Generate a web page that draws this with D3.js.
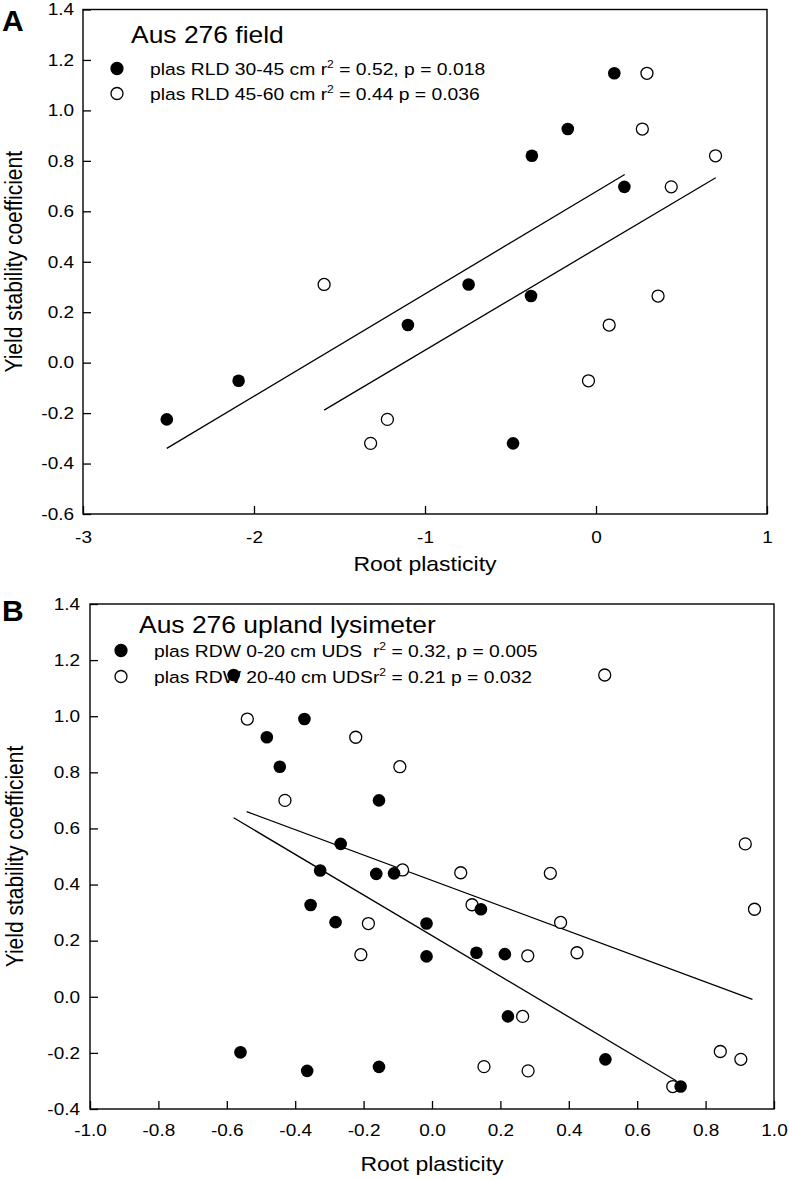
<!DOCTYPE html>
<html><head><meta charset="utf-8">
<script src="https://cdn.jsdelivr.net/npm/d3@7"></script>
<style>
body{margin:0;background:#fff}
text{font-family:Arial,"Liberation Sans",sans-serif;fill:#000;white-space:pre}
</style>
</head><body>
<svg id="chart" width="789" height="1179"></svg>
<script>
// ---------- Panel A data (Aus 276 field) ----------
const aFilledX = [-2.51, -2.09, -1.10, -0.745, -0.38, -0.485, -0.375, -0.165, 0.107, 0.166];
const aFilledY = [-0.225, -0.072, 0.149, 0.31, 0.264, -0.32, 0.82, 0.926, 1.147, 0.697];
const aOpenX = [-1.59, -1.22, -1.318, -0.044, 0.077, 0.363, 0.44, 0.271, 0.298, 0.699];
const aOpenY = [0.31, -0.225, -0.32, -0.072, 0.149, 0.264, 0.697, 0.926, 1.147, 0.82];
const aFitFilled = [[-2.51, -0.34], [0.168, 0.746]];
const aFitOpen = [[-1.59, -0.188], [0.70, 0.733]];
const aXTicks = [-3, -2, -1, 0, 1];
const aXTickLabels = ["-3", "-2", "-1", "0", "1"];
const aYTicks = [-0.6, -0.4, -0.2, 0.0, 0.2, 0.4, 0.6, 0.8, 1.0, 1.2, 1.4];
const aYTickLabels = ["-0.6", "-0.4", "-0.2", "0.0", "0.2", "0.4", "0.6", "0.8", "1.0", "1.2", "1.4"];
const aTitle = "Aus 276 field";
const aLegend = [["plas RLD 30-45 cm r", "2", " = 0.52, p = 0.018"], ["plas RLD 45-60 cm r", "2", " = 0.44 p = 0.036"]];

// ---------- Panel B data (Aus 276 upland lysimeter) ----------
const bFilledX = [-0.58, -0.373, -0.483, -0.445, -0.155, -0.267, -0.327, -0.163, -0.111, -0.355, -0.282, -0.016, 0.143, -0.016, 0.13, 0.213, 0.222, -0.56, -0.365, -0.155, 0.507, 0.727];
const bFilledY = [1.147, 0.99, 0.925, 0.82, 0.70, 0.545, 0.45, 0.438, 0.44, 0.327, 0.266, 0.261, 0.312, 0.144, 0.157, 0.152, -0.07, -0.198, -0.264, -0.25, -0.223, -0.32];
const bOpenX = [-0.54, -0.223, -0.094, -0.43, -0.086, 0.084, 0.346, 0.117, -0.186, -0.208, 0.28, 0.424, 0.376, 0.916, 0.943, 0.265, 0.152, 0.281, 0.704, 0.843, 0.903, 0.505];
const bOpenY = [0.99, 0.925, 0.82, 0.70, 0.452, 0.442, 0.44, 0.328, 0.261, 0.15, 0.146, 0.157, 0.265, 0.545, 0.312, -0.07, -0.249, -0.264, -0.32, -0.195, -0.223, 1.147];
const bFitFilled = [[-0.58, 0.638], [0.715, -0.30]];
const bFitOpen = [[-0.542, 0.66], [0.937, -0.009]];
const bXTicks = [-1.0, -0.8, -0.6, -0.4, -0.2, 0.0, 0.2, 0.4, 0.6, 0.8, 1.0];
const bXTickLabels = ["-1.0", "-0.8", "-0.6", "-0.4", "-0.2", "0.0", "0.2", "0.4", "0.6", "0.8", "1.0"];
const bYTicks = [-0.4, -0.2, 0.0, 0.2, 0.4, 0.6, 0.8, 1.0, 1.2, 1.4];
const bYTickLabels = ["-0.4", "-0.2", "0.0", "0.2", "0.4", "0.6", "0.8", "1.0", "1.2", "1.4"];
const bTitle = "Aus 276 upland lysimeter";
const bLegend = [["plas RDW 0-20 cm UDS  r", "2", " = 0.32, p = 0.005"], ["plas RDW 20-40 cm UDSr", "2", " = 0.21 p = 0.032"]];

const xTitle = "Root plasticity";
const yTitle = "Yield stability coefficient";

// ---------- drawing ----------
const S = 1.15; // horizontal text stretch seen in the reference
const svg = d3.select("#chart");

function stext(g, x, y, size, anchor) {
  return g.append("text")
    .attr("transform", `translate(${x},${y}) scale(${S},1)`)
    .attr("font-size", size)
    .attr("text-anchor", anchor);
}

function drawPanel(cfg) {
  const x = d3.scaleLinear().domain(cfg.xDomain).range([cfg.left, cfg.right]);
  const y = d3.scaleLinear().domain(cfg.yDomain).range([cfg.bottom, cfg.top]);
  const g = svg.append("g");

  // axes (inward ticks)
  const xa = g.append("g").attr("transform", `translate(0,${cfg.bottom})`)
    .call(d3.axisBottom(x).tickValues(cfg.xTicks).tickFormat((d, i) => cfg.xLabels[i])
      .tickSizeInner(-8).tickSizeOuter(0));
  xa.select(".domain").remove();
  xa.selectAll("line").attr("stroke", "#000").attr("stroke-width", 1.3);
  xa.selectAll("text").attr("font-size", 16.5).attr("font-family", null)
    .attr("y", cfg.xLabelOff).attr("dy", null).attr("transform", `scale(${S},1)`);

  const ya = g.append("g").attr("transform", `translate(${cfg.left},0)`)
    .call(d3.axisLeft(y).tickValues(cfg.yTicks).tickFormat((d, i) => cfg.yLabels[i])
      .tickSizeInner(-8).tickSizeOuter(0));
  ya.select(".domain").remove();
  ya.selectAll("line").attr("stroke", "#000").attr("stroke-width", 1.3);
  ya.selectAll("text").attr("font-size", 16.5).attr("font-family", null)
    .attr("x", -cfg.yLabelGap / S).attr("transform", `scale(${S},1)`);

  // frame
  g.append("rect").attr("x", cfg.left).attr("y", cfg.top)
    .attr("width", cfg.right - cfg.left).attr("height", cfg.bottom - cfg.top)
    .attr("fill", "none").attr("stroke", "#000").attr("stroke-width", 1.4);

  // axis titles
  stext(g, (cfg.left + cfg.right) / 2, cfg.xTitleY, 20, "middle").text(xTitle);
  g.append("text")
    .attr("transform", `translate(${cfg.yTitleX},${(cfg.top + cfg.bottom) / 2}) scale(${S},1) rotate(-90)`)
    .attr("font-size", 21).attr("text-anchor", "middle").text(yTitle);

  // panel letter
  g.append("text").attr("x", cfg.letterX).attr("y", cfg.letterY)
    .attr("font-size", 30).attr("font-weight", "bold").text(cfg.letter);

  // title and legend
  stext(g, cfg.titleX, cfg.titleY, 23, "start").text(cfg.title);
  cfg.legend.forEach((parts, i) => {
    const ty = cfg.legY[i];
    const t = stext(g, cfg.legTextX, ty, 16.8, "start");
    t.append("tspan").text(parts[0]);
    t.append("tspan").attr("font-size", 10.5).attr("dy", -7).text(parts[1]);
    t.append("tspan").attr("dy", 7).text(parts[2]);
    g.append("circle").attr("cx", cfg.legMarkX).attr("cy", ty - 6.5).attr("r", 6)
      .attr("fill", i === 0 ? "#000" : "#fff").attr("stroke", "#000").attr("stroke-width", 1.3);
  });

  // regression lines
  const line = d3.line().x(d => x(d[0])).y(d => y(d[1]));
  [cfg.fitFilled, cfg.fitOpen].forEach(f => {
    g.append("path").attr("d", line(f)).attr("fill", "none")
      .attr("stroke", "#000").attr("stroke-width", 1.3);
  });

  // points
  const open = cfg.openX.map((v, i) => [v, cfg.openY[i]]);
  const filled = cfg.filledX.map((v, i) => [v, cfg.filledY[i]]);
  g.append("g").selectAll("circle").data(open).join("circle")
    .attr("cx", d => x(d[0])).attr("cy", d => y(d[1])).attr("r", 6)
    .attr("fill", "#fff").attr("stroke", "#000").attr("stroke-width", 1.3);
  g.append("g").selectAll("circle").data(filled).join("circle")
    .attr("cx", d => x(d[0])).attr("cy", d => y(d[1])).attr("r", 6.3)
    .attr("fill", "#000");
}

drawPanel({
  letter: "A", letterX: 2, letterY: 31,
  left: 83, right: 767, top: 9.5, bottom: 514,
  xDomain: [-3, 1], yDomain: [-0.6, 1.4],
  xTicks: aXTicks, xLabels: aXTickLabels, yTicks: aYTicks, yLabels: aYTickLabels,
  xLabelOff: 29, yLabelGap: 9, xTitleY: 570.5, yTitleX: 22,
  title: aTitle, titleX: 131, titleY: 42.5,
  legend: aLegend, legY: [75, 100], legTextX: 150, legMarkX: 117,
  filledX: aFilledX, filledY: aFilledY, openX: aOpenX, openY: aOpenY,
  fitFilled: aFitFilled, fitOpen: aFitOpen
});

drawPanel({
  letter: "B", letterX: 2, letterY: 621,
  left: 90, right: 774, top: 604, bottom: 1109,
  xDomain: [-1, 1], yDomain: [-0.4, 1.4],
  xTicks: bXTicks, xLabels: bXTickLabels, yTicks: bYTicks, yLabels: bYTickLabels,
  xLabelOff: 27.5, yLabelGap: 10, xTitleY: 1170.5, yTitleX: 23,
  title: bTitle, titleX: 139, titleY: 633,
  legend: bLegend, legY: [657, 683], legTextX: 154, legMarkX: 121,
  filledX: bFilledX, filledY: bFilledY, openX: bOpenX, openY: bOpenY,
  fitFilled: bFitFilled, fitOpen: bFitOpen
});
</script>
</body></html>
